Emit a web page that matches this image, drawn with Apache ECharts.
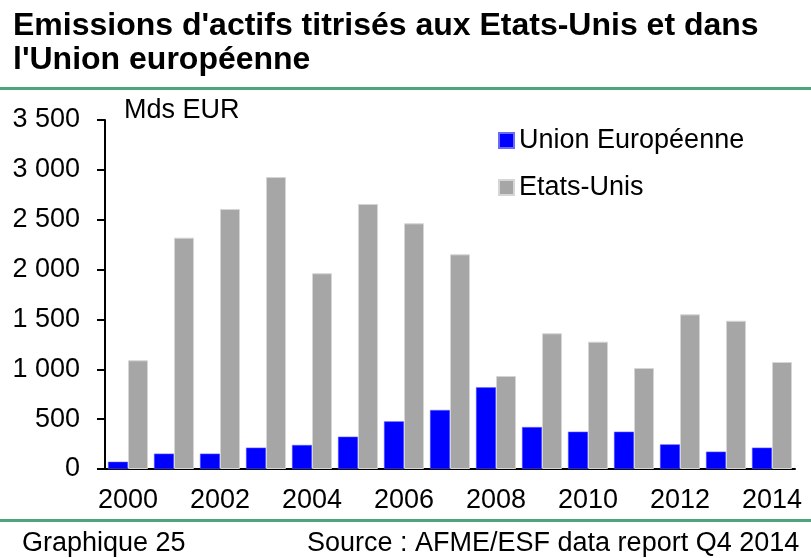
<!DOCTYPE html>
<html lang="fr">
<head>
    <meta charset="UTF-8">
    <title>Emissions d'actifs titrisés</title>
    <script src="https://cdn.jsdelivr.net/npm/echarts@6/dist/echarts.min.js"></script>
</head>
<body style="margin: 0; background-color: #FFFFFF">
<div id="container" style="width: 811px; height: 558px"></div>
</body>
<script type="text/javascript">
    // données
    let years = ['2000', '2001', '2002', '2003', '2004', '2005', '2006', '2007',
        '2008', '2009', '2010', '2011', '2012', '2013', '2014'];
    let ue = [73, 154, 154, 214, 241, 324, 478, 592, 819, 421, 374, 374, 247, 174, 214];
    let usa = [1090, 2320, 2607, 2928, 1963, 2658, 2464, 2153, 933, 1361, 1277, 1013, 1551, 1487, 1073];
    let yTicks = [0, 500, 1000, 1500, 2000, 2500, 3000, 3500];

    let font = 'Liberation Sans, Arial, sans-serif';
    let green = '#4DA67A';

    let dom = document.getElementById("container");
    let myChart = echarts.init(dom);
    let option = {
        animation: false,
        textStyle: {fontFamily: font},
        title: {
            text: "Emissions d'actifs titrisés aux Etats-Unis et dans\nl'Union européenne",
            left: 8,
            top: 4,
            textStyle: {fontSize: 32, fontWeight: 'bold', color: '#000', lineHeight: 34, fontFamily: font}
        },
        legend: {
            orient: 'vertical',
            left: 493,
            top: 122,
            itemWidth: 15,
            itemHeight: 15,
            itemGap: 20,
            icon: 'rect',
            textStyle: {fontSize: 27, color: '#000', fontFamily: font},
            data: ['Union Européenne', 'Etats-Unis']
        },
        grid: {left: 105, right: 16, top: 120, bottom: 89},
        xAxis: {
            type: 'category',
            data: years,
            axisLine: {lineStyle: {color: '#000', width: 2}},
            axisTick: {show: false},
            axisLabel: {interval: 1, fontSize: 27, color: '#000', margin: 18, fontFamily: font}
        },
        yAxis: {
            type: 'value',
            min: yTicks[0],
            max: yTicks[yTicks.length - 1],
            interval: 500,
            splitLine: {show: false},
            axisLine: {show: true, lineStyle: {color: '#000', width: 2}},
            axisTick: {show: true, length: 8, lineStyle: {color: '#000', width: 2}},
            axisLabel: {
                fontSize: 27, color: '#000', margin: 25, fontFamily: font,
                formatter: function (v) {
                    return String(v).replace(/\B(?=(\d{3})+(?!\d))/g, ' ');
                }
            }
        },
        graphic: [
            {type: 'rect', shape: {x: 0, y: 87, width: 811, height: 3}, style: {fill: green}},
            {type: 'rect', shape: {x: 0, y: 519, width: 811, height: 3}, style: {fill: green}},
            {type: 'text', left: 124, top: 97, style: {text: 'Mds EUR', fontSize: 27, fill: '#000', fontFamily: font}},
            {type: 'text', left: 22, top: 530, style: {text: 'Graphique 25', fontSize: 27, fill: '#000', fontFamily: font}},
            {type: 'text', left: 307, top: 530, style: {text: 'Source : AFME/ESF data report Q4 2014', fontSize: 27, fill: '#000', fontFamily: font}}
        ],
        series: [
            {
                name: 'Union Européenne',
                type: 'bar',
                data: ue,
                barGap: '0%',
                barCategoryGap: '13%',
                itemStyle: {color: '#0000FF', borderColor: '#6A6AFF', borderWidth: 0.5}
            },
            {
                name: 'Etats-Unis',
                type: 'bar',
                data: usa,
                itemStyle: {color: '#A6A6A6', borderColor: '#D6D6D6', borderWidth: 1}
            }
        ]
    };
    myChart.setOption(option);
</script>
</html>
